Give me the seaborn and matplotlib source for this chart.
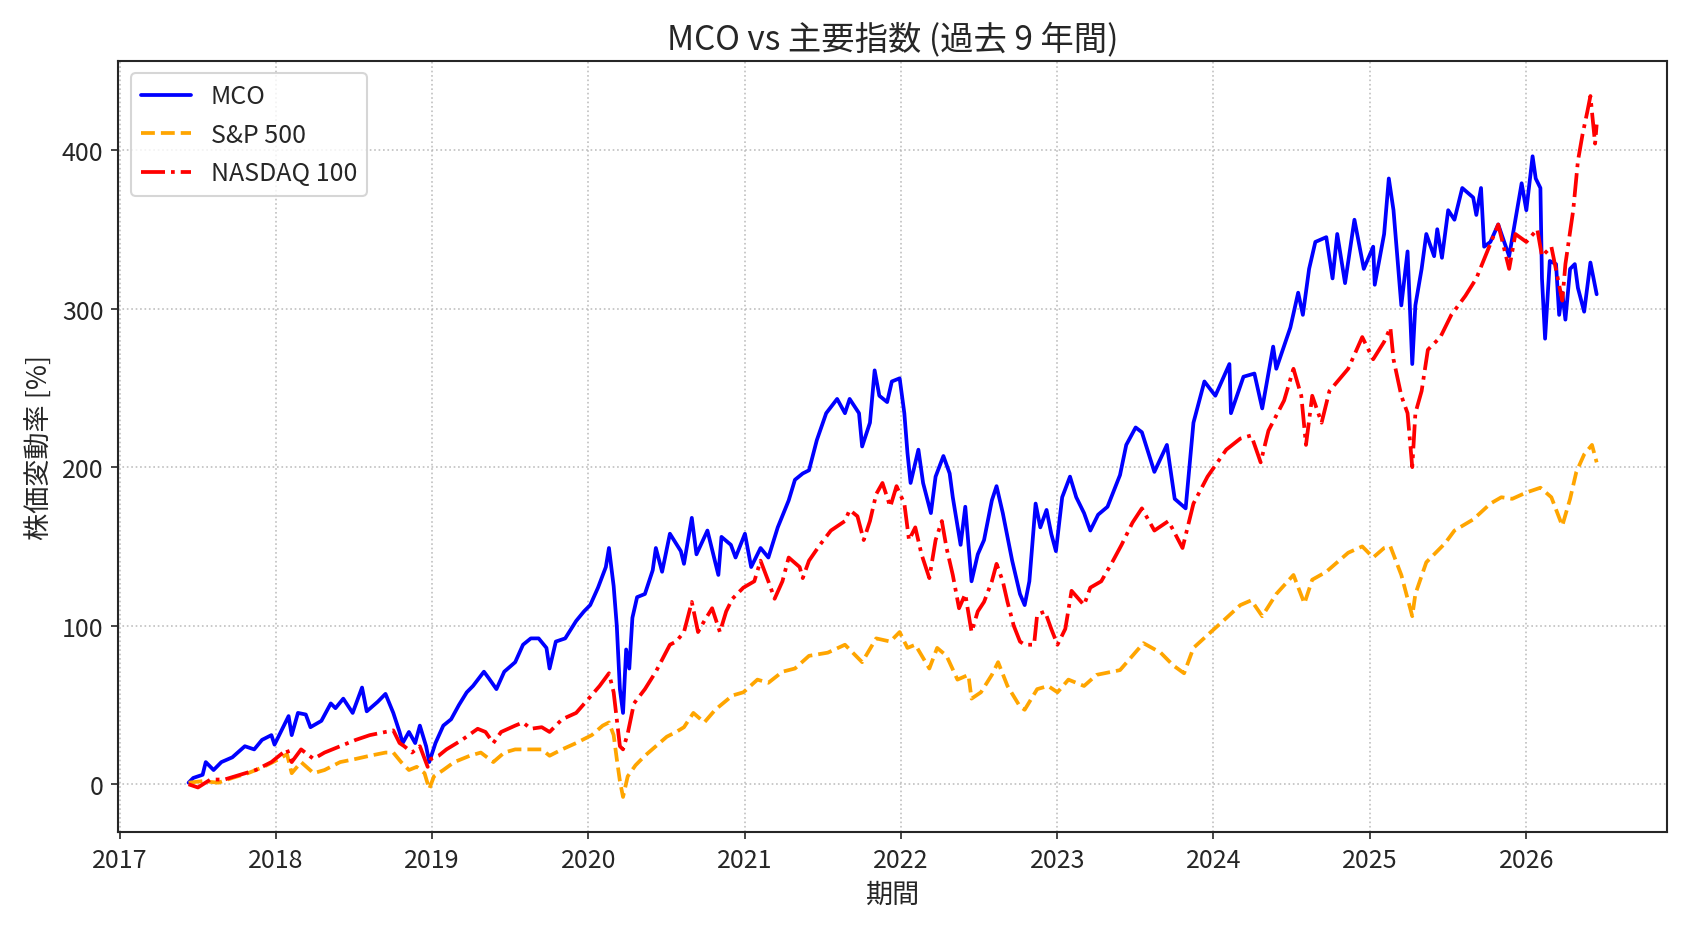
import numpy as np
import pandas as pd
import matplotlib
matplotlib.use("Agg")
import matplotlib.pyplot as plt
import matplotlib.dates as mdates
import seaborn as sns

# values (decimal year, % change since start)
mco_year = [2017.44, 2017.47, 2017.53, 2017.55, 2017.60, 2017.65, 2017.72, 2017.80, 2017.86, 2017.91,
            2017.97, 2017.99, 2018.04, 2018.08, 2018.10, 2018.14, 2018.19, 2018.22, 2018.29, 2018.35,
            2018.38, 2018.43, 2018.49, 2018.55, 2018.58, 2018.65, 2018.70, 2018.75, 2018.79, 2018.81,
            2018.85, 2018.89, 2018.92, 2018.96, 2018.98, 2019.02, 2019.07, 2019.12, 2019.17, 2019.22,
            2019.26, 2019.33, 2019.36, 2019.41, 2019.46, 2019.53, 2019.58, 2019.63, 2019.68, 2019.73,
            2019.75, 2019.79, 2019.85, 2019.92, 2019.97, 2020.01, 2020.06, 2020.11, 2020.13, 2020.16,
            2020.18, 2020.20, 2020.22, 2020.24, 2020.26, 2020.28, 2020.31, 2020.36, 2020.41, 2020.43,
            2020.47, 2020.52, 2020.59, 2020.61, 2020.66, 2020.69, 2020.76, 2020.83, 2020.85, 2020.91,
            2020.94, 2021.00, 2021.04, 2021.10, 2021.15, 2021.21, 2021.28, 2021.32, 2021.37, 2021.41,
            2021.46, 2021.52, 2021.59, 2021.64, 2021.67, 2021.73, 2021.75, 2021.80, 2021.83, 2021.86,
            2021.91, 2021.94, 2021.99, 2022.02, 2022.04, 2022.06, 2022.11, 2022.14, 2022.19, 2022.22,
            2022.27, 2022.31, 2022.33, 2022.38, 2022.41, 2022.45, 2022.49, 2022.53, 2022.58, 2022.61,
            2022.65, 2022.68, 2022.71, 2022.76, 2022.79, 2022.82, 2022.86, 2022.89, 2022.93, 2022.96,
            2022.99, 2023.03, 2023.08, 2023.12, 2023.17, 2023.21, 2023.26, 2023.32, 2023.40, 2023.44,
            2023.50, 2023.54, 2023.62, 2023.70, 2023.75, 2023.82, 2023.87, 2023.94, 2024.01, 2024.10,
            2024.11, 2024.19, 2024.26, 2024.31, 2024.38, 2024.40, 2024.49, 2024.54, 2024.57, 2024.61,
            2024.65, 2024.72, 2024.76, 2024.79, 2024.84, 2024.90, 2024.96, 2025.02, 2025.03, 2025.09,
            2025.12, 2025.15, 2025.20, 2025.24, 2025.27, 2025.29, 2025.33, 2025.36, 2025.41, 2025.43,
            2025.46, 2025.50, 2025.54, 2025.59, 2025.66, 2025.68, 2025.71, 2025.73, 2025.77, 2025.82,
            2025.89, 2025.93, 2025.97, 2026.00, 2026.04, 2026.06, 2026.09, 2026.10, 2026.12, 2026.15,
            2026.19, 2026.21, 2026.23, 2026.25, 2026.28, 2026.31, 2026.33, 2026.37, 2026.41, 2026.45]
mco_pct = [1, 4, 6, 14, 9, 14, 17, 24, 22, 28,
           31, 25, 35, 43, 31, 45, 44, 36, 40, 51,
           48, 54, 45, 61, 46, 52, 57, 45, 33, 26,
           33, 26, 37, 24, 14, 26, 37, 41, 50, 58,
           62, 71, 67, 60, 71, 77, 88, 92, 92, 86,
           73, 90, 92, 103, 109, 113, 124, 137, 149, 125,
           100, 60, 45, 85, 73, 105, 118, 120, 135, 149,
           134, 158, 147, 139, 168, 145, 160, 132, 156, 151,
           143, 158, 137, 149, 143, 162, 179, 192, 196, 198,
           217, 234, 243, 234, 243, 234, 213, 228, 261, 245,
           241, 254, 256, 234, 209, 190, 211, 190, 171, 194,
           207, 196, 181, 151, 175, 128, 145, 154, 179, 188,
           171, 156, 141, 120, 113, 128, 177, 162, 173, 158,
           147, 181, 194, 181, 171, 160, 170, 175, 195, 214,
           225, 222, 197, 214, 180, 174, 228, 254, 245, 265,
           234, 257, 259, 237, 276, 262, 288, 310, 296, 325,
           342, 345, 319, 347, 316, 356, 325, 339, 315, 347,
           382, 362, 302, 336, 265, 302, 325, 347, 333, 350,
           332, 362, 356, 376, 370, 359, 376, 339, 342, 353,
           333, 356, 379, 362, 396, 382, 376, 319, 281, 330,
           328, 296, 310, 293, 325, 328, 313, 298, 329, 309]

spx_year = [2017.44, 2017.53, 2017.63, 2017.72, 2017.82, 2017.92, 2018.02, 2018.07, 2018.10, 2018.16,
            2018.24, 2018.31, 2018.41, 2018.51, 2018.60, 2018.70, 2018.75, 2018.80, 2018.85, 2018.90,
            2018.95, 2018.98, 2019.01, 2019.07, 2019.14, 2019.24, 2019.31, 2019.39, 2019.46, 2019.53,
            2019.63, 2019.70, 2019.75, 2019.83, 2019.92, 2020.02, 2020.09, 2020.13, 2020.16, 2020.18,
            2020.20, 2020.22, 2020.25, 2020.30, 2020.36, 2020.43, 2020.50, 2020.56, 2020.61, 2020.67,
            2020.74, 2020.81, 2020.92, 2020.99, 2021.08, 2021.15, 2021.24, 2021.32, 2021.41, 2021.53,
            2021.64, 2021.75, 2021.84, 2021.93, 2021.99, 2022.04, 2022.09, 2022.18, 2022.23, 2022.29,
            2022.36, 2022.43, 2022.45, 2022.51, 2022.58, 2022.62, 2022.68, 2022.76, 2022.79, 2022.87,
            2022.94, 2023.00, 2023.07, 2023.17, 2023.25, 2023.40, 2023.55, 2023.66, 2023.74, 2023.81,
            2023.87, 2023.97, 2024.06, 2024.17, 2024.24, 2024.31, 2024.40, 2024.51, 2024.58, 2024.63,
            2024.72, 2024.86, 2024.95, 2025.02, 2025.09, 2025.13, 2025.20, 2025.27, 2025.29, 2025.36,
            2025.48, 2025.54, 2025.66, 2025.77, 2025.84, 2025.91, 2026.00, 2026.09, 2026.16, 2026.23,
            2026.28, 2026.32, 2026.37, 2026.42, 2026.45]
spx_pct = [1, 2, 1, 4, 7, 11, 16, 19, 7, 14,
           7, 9, 14, 16, 18, 20, 20, 14, 9, 11,
           7, -3, 5, 9, 14, 18, 20, 14, 20, 22,
           22, 22, 18, 22, 26, 31, 37, 39, 31, 16,
           2, -8, 5, 12, 18, 24, 30, 33, 36, 45,
           39, 47, 56, 58, 66, 64, 71, 73, 81, 83,
           88, 77, 92, 90, 96, 86, 88, 73, 86, 81,
           66, 69, 54, 58, 69, 77, 62, 49, 47, 60,
           62, 58, 66, 62, 69, 72, 89, 83, 75, 70,
           86, 95, 103, 113, 116, 106, 120, 132, 114, 129,
           134, 146, 150, 143, 149, 150, 132, 106, 120, 140,
           152, 160, 167, 177, 181, 180, 184, 187, 181, 163,
           180, 197, 208, 214, 203]

ndx_year = [2017.44, 2017.50, 2017.58, 2017.67, 2017.77, 2017.87, 2017.97, 2018.07, 2018.10, 2018.16,
            2018.24, 2018.31, 2018.41, 2018.51, 2018.60, 2018.70, 2018.75, 2018.79, 2018.82, 2018.87,
            2018.92, 2018.97, 2018.99, 2019.04, 2019.09, 2019.19, 2019.29, 2019.34, 2019.39, 2019.44,
            2019.53, 2019.58, 2019.63, 2019.70, 2019.75, 2019.83, 2019.92, 2020.00, 2020.07, 2020.13,
            2020.16, 2020.18, 2020.20, 2020.22, 2020.25, 2020.29, 2020.36, 2020.43, 2020.52, 2020.56,
            2020.61, 2020.66, 2020.70, 2020.74, 2020.79, 2020.84, 2020.88, 2020.92, 2020.99, 2021.06,
            2021.10, 2021.15, 2021.19, 2021.24, 2021.28, 2021.35, 2021.37, 2021.41, 2021.48, 2021.55,
            2021.64, 2021.67, 2021.72, 2021.76, 2021.80, 2021.84, 2021.88, 2021.93, 2021.97, 2022.02,
            2022.05, 2022.09, 2022.13, 2022.18, 2022.22, 2022.26, 2022.29, 2022.33, 2022.37, 2022.41,
            2022.45, 2022.49, 2022.53, 2022.58, 2022.61, 2022.65, 2022.68, 2022.72, 2022.76, 2022.79,
            2022.85, 2022.87, 2022.92, 2022.96, 2023.00, 2023.05, 2023.09, 2023.17, 2023.21, 2023.28,
            2023.35, 2023.41, 2023.48, 2023.54, 2023.62, 2023.71, 2023.80, 2023.87, 2023.96, 2024.08,
            2024.17, 2024.24, 2024.30, 2024.35, 2024.45, 2024.51, 2024.56, 2024.59, 2024.63, 2024.69,
            2024.74, 2024.86, 2024.95, 2025.02, 2025.09, 2025.13, 2025.15, 2025.20, 2025.24, 2025.27,
            2025.29, 2025.33, 2025.37, 2025.45, 2025.52, 2025.61, 2025.68, 2025.75, 2025.82, 2025.89,
            2025.93, 2026.00, 2026.07, 2026.10, 2026.16, 2026.23, 2026.25, 2026.30, 2026.33, 2026.36,
            2026.39, 2026.41, 2026.44, 2026.45]
ndx_pct = [0, -2, 3, 3, 6, 9, 14, 22, 14, 22,
           16, 20, 24, 28, 31, 33, 34, 26, 24, 20,
           24, 11, 16, 18, 22, 28, 35, 33, 26, 33,
           37, 39, 35, 36, 33, 41, 45, 54, 62, 70,
           58, 41, 24, 22, 32, 51, 60, 71, 88, 90,
           96, 115, 96, 103, 111, 96, 109, 117, 124, 128,
           141, 128, 117, 128, 143, 137, 130, 141, 151, 160,
           166, 173, 169, 154, 166, 183, 190, 175, 188, 177,
           154, 162, 145, 130, 154, 166, 149, 132, 111, 120,
           96, 109, 115, 128, 139, 128, 115, 100, 90, 88,
           88, 107, 109, 98, 88, 98, 122, 113, 124, 128,
           140, 151, 165, 174, 160, 166, 149, 177, 194, 211,
           218, 220, 203, 223, 242, 262, 245, 214, 245, 228,
           248, 262, 282, 268, 279, 288, 268, 245, 234, 200,
           234, 248, 274, 282, 296, 308, 319, 336, 353, 325,
           347, 342, 350, 333, 339, 305, 328, 362, 393, 410,
           424, 434, 404, 416]


def to_dates(years):
    years = np.asarray(years, dtype=float)
    return pd.Timestamp("2017-01-01") + pd.to_timedelta((years - 2017) * 365.25, unit="D")


mco = pd.DataFrame({"date": to_dates(mco_year), "pct": mco_pct})
spx = pd.DataFrame({"date": to_dates(spx_year), "pct": spx_pct})
ndx = pd.DataFrame({"date": to_dates(ndx_year), "pct": ndx_pct})

sns.set_style("ticks")
plt.rcParams["font.family"] = ["Noto Sans CJK JP", "DejaVu Sans"]

fig, ax = plt.subplots(figsize=(1688 / 150, 932 / 150), dpi=150)
fig.subplots_adjust(left=0.070, right=0.9876, top=0.9335, bottom=0.1062)

sns.lineplot(data=mco, x="date", y="pct", ax=ax, color="blue", linestyle="-",
             linewidth=1.8, label="MCO")
sns.lineplot(data=spx, x="date", y="pct", ax=ax, color="orange", linestyle="--",
             linewidth=1.8, label="S&P 500")
sns.lineplot(data=ndx, x="date", y="pct", ax=ax, color="red", linestyle="-.",
             linewidth=1.8, label="NASDAQ 100")

ax.xaxis.set_major_locator(mdates.YearLocator())
ax.xaxis.set_major_formatter(mdates.DateFormatter("%Y"))
ax.tick_params(labelsize=12)
ax.grid(True, linestyle=":", color="#b0b0b0", alpha=0.8)
for s in ax.spines.values():
    s.set_visible(True)
    s.set_linewidth(1.0)

ax.set_title("MCO vs 主要指数 (過去 9 年間)", fontsize=16)
ax.set_xlabel("期間", fontsize=13)
ax.set_ylabel("株価変動率 [%]", fontsize=13)
ax.legend(loc="upper left", fontsize=12)

fig.savefig("out.png", dpi=150)
